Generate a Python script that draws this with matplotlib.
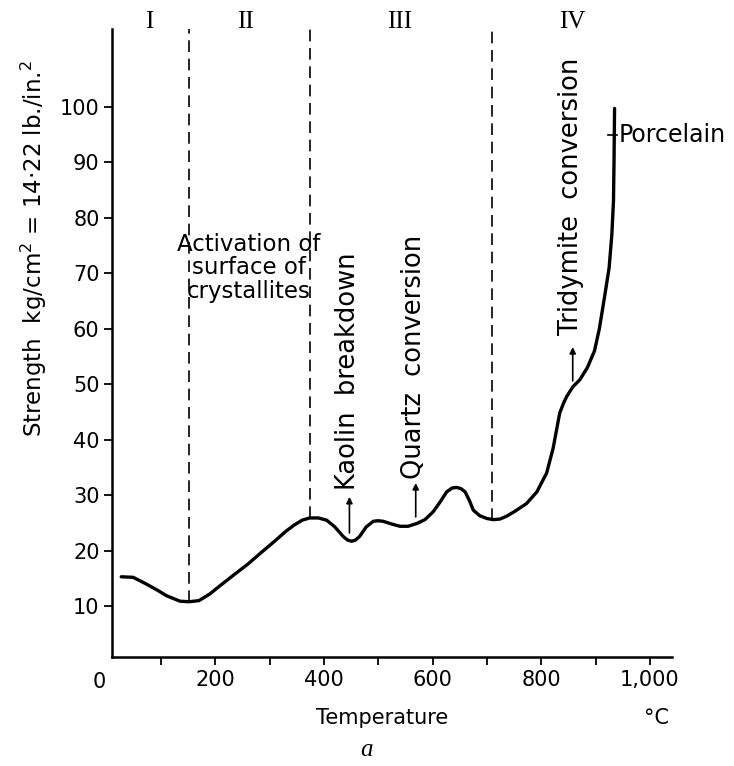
import matplotlib
matplotlib.use("Agg")
import matplotlib.pyplot as plt

# strength curve (temperature degC, strength kg/cm2)
temperature = [27, 49, 73, 95, 110, 135, 152, 170, 190, 209, 235, 259, 285, 308, 330, 345, 360,
               374, 390, 405, 420, 436, 444, 451, 458, 466, 478, 491, 500, 509, 525, 540, 555,
               571, 586, 601, 614, 626, 636, 644, 652, 660, 668, 675, 687, 700, 712, 724, 736,
               750, 773, 792, 810, 822, 834, 842, 847, 858, 871, 885, 898, 907, 917, 925, 930,
               933, 934, 935]
strength = [15.3, 15.2, 14.0, 12.8, 11.9, 10.9, 10.8, 11.0, 12.2, 13.7, 15.7, 17.5, 19.7, 21.6,
            23.5, 24.6, 25.5, 25.9, 25.9, 25.5, 24.3, 22.5, 21.9, 21.7, 21.9, 22.6, 24.3, 25.3,
            25.4, 25.3, 24.8, 24.4, 24.4, 24.9, 25.6, 27.0, 28.8, 30.6, 31.3, 31.4, 31.2, 30.6,
            29.0, 27.3, 26.3, 25.8, 25.6, 25.7, 26.2, 27.0, 28.5, 30.6, 34.0, 38.5, 44.8, 46.8,
            47.8, 49.5, 50.8, 53.0, 56.0, 60.0, 66.0, 71.0, 77.0, 83.0, 90.0, 99.7]

# region boundaries (dashed lines) and where they meet the curve
boundary_x = [152, 374, 710]
boundary_bottom = [10.8, 25.9, 25.6]
region_names = ["I", "II", "III", "IV"]
region_x = [78, 256, 540, 857]

# rotated event labels with their arrows
event_labels = ["Kaolin  breakdown", "Quartz  conversion", "Tridymite  conversion"]
event_x = [447, 569, 858]
event_arrow_from = [23.2, 26.1, 50.6]
event_arrow_to = [29.7, 32.2, 56.7]
event_text_bottom = [31.0, 33.0, 58.8]

activation_lines = ["Activation of", "surface of", "crystallites"]
activation_y = [75.2, 71.0, 66.8]

porcelain_level = 95
xtick_values = [200, 400, 600, 800, 1000]
xtick_labels = ["200", "400", "600", "800", "1,000"]
ytick_values = [10, 20, 30, 40, 50, 60, 70, 80, 90, 100]

fig = plt.figure(figsize=(7.34, 7.66), dpi=100)
ax = fig.add_axes([0.1526, 0.142, 0.7624, 0.82])

ax.plot(temperature, strength, color="black", lw=2.4, solid_capstyle="round",
        solid_joinstyle="round")

top = 114
for bx, bb in zip(boundary_x, boundary_bottom):
    ax.plot([bx, bx], [bb, top], color="black", lw=1.2, linestyle=(0, (7, 4)))

for name, rx in zip(region_names, region_x):
    ax.text(rx, 115.2, name, ha="center", va="center", fontsize=18,
            family="Liberation Serif", clip_on=False)

for line, ly in zip(activation_lines, activation_y):
    ax.text(262, ly, line, ha="center", va="center", fontsize=16.5)

for label, ex, a0, a1, tb in zip(event_labels, event_x, event_arrow_from, event_arrow_to,
                                 event_text_bottom):
    ax.annotate("", xy=(ex, a1), xytext=(ex, a0),
                arrowprops=dict(arrowstyle="-|>", color="black", lw=1.2, mutation_scale=9,
                                shrinkA=0, shrinkB=0))
    ax.text(ex - 3, tb, label, rotation=90, ha="center", va="bottom", fontsize=18.5)

ax.plot([922, 940], [porcelain_level, porcelain_level], color="black", lw=1.2)
ax.text(943, porcelain_level, "Porcelain", ha="left", va="center", fontsize=17,
        clip_on=False)

ax.set_xlim(10, 1040)
ax.set_ylim(0.8, top)
ax.spines["top"].set_visible(False)
ax.spines["right"].set_visible(False)
ax.spines["left"].set_linewidth(1.8)
ax.spines["bottom"].set_linewidth(1.8)

ax.set_xticks(xtick_values)
ax.set_xticklabels(xtick_labels, fontsize=15)
ax.set_xticks(range(100, 1001, 200), minor=True)
ax.set_yticks(ytick_values)
ax.set_yticklabels([str(v) for v in ytick_values], fontsize=15)
ax.tick_params(axis="both", which="both", direction="out", length=6, width=1.3, pad=3)

ax.text(-14, -3.7, "0", ha="center", va="center", fontsize=15, clip_on=False)
ax.text(508, -10.2, "Temperature", ha="center", va="center", fontsize=15, clip_on=False)
ax.text(1012, -10.2, "°C", ha="center", va="center", fontsize=15, clip_on=False)
ax.text(478, -16.0, "a", ha="center", va="center", fontsize=18, family="Liberation Serif",
        style="italic", clip_on=False)
ax.text(-0.14, 0.65, "Strength  kg/cm$^2$ = 14·22 lb./in.$^2$", rotation=90,
        ha="center", va="center", fontsize=16.5, transform=ax.transAxes)

fig.savefig("out.png", dpi=100)
